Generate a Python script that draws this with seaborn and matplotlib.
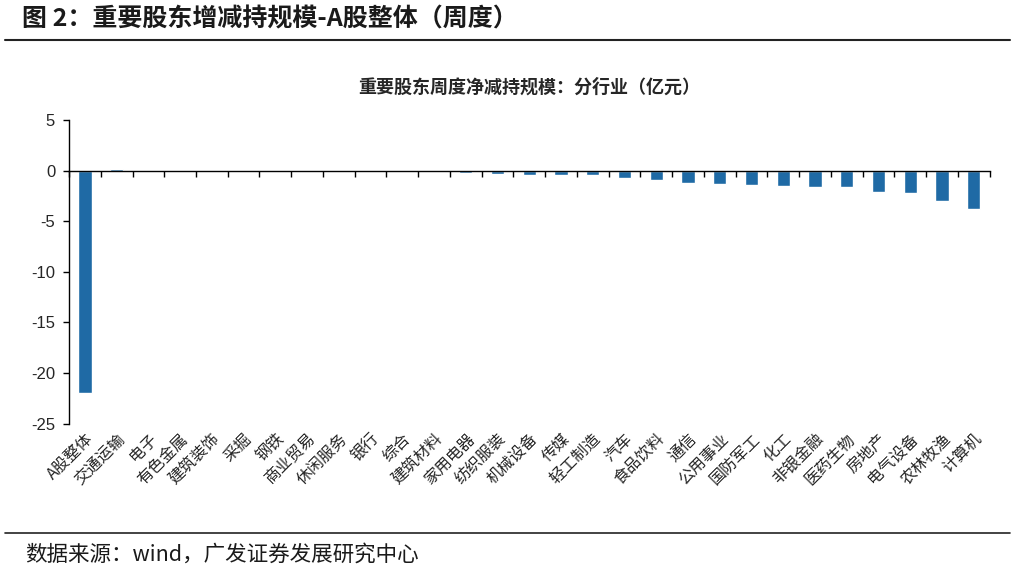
import matplotlib
matplotlib.use("Agg")
import matplotlib.pyplot as plt
import seaborn as sns
import pandas as pd
import numpy as np

industries = ["A股整体", "交通运输", "电子", "有色金属", "建筑装饰", "采掘", "钢铁", "商业贸易",
              "休闲服务", "银行", "综合", "建筑材料", "家用电器", "纺织服装", "机械设备", "传媒",
              "轻工制造", "汽车", "食品饮料", "通信", "公用事业", "国防军工", "化工", "非银金融",
              "医药生物", "房地产", "电气设备", "农林牧渔", "计算机"]
values = [-22.0, 0.2, 0.0, 0.0, 0.0, 0.0, 0.0, 0.0,
          0.0, 0.0, 0.0, 0.0, -0.2, -0.3, -0.4, -0.46,
          -0.46, -0.69, -0.86, -1.19, -1.32, -1.42, -1.48, -1.58,
          -1.65, -2.1, -2.17, -2.96, -3.82]
y_ticks = [5, 0, -5, -10, -15, -20, -25]

sns.set_theme(style="white")
plt.rcParams['font.family'] = ['Noto Sans CJK SC', 'DejaVu Sans']

df = pd.DataFrame({"行业": industries, "规模": values})

fig = plt.figure(figsize=(10.15, 5.7), dpi=100)
ax = fig.add_axes([0.068, 0.257, 0.907, 0.532])

sns.barplot(data=df, x="行业", y="规模", color="#1F6AA5", width=0.42,
            saturation=1, ax=ax, order=industries)

ax.set_ylim(-25, 5)
ax.set_yticks(y_ticks)
ax.set_yticklabels([str(v) for v in y_ticks], family=['Liberation Sans', 'DejaVu Sans'], fontsize=12)
ax.set_xlim(-0.5, len(industries) - 0.5)
ax.set_xlabel("")
ax.set_ylabel("")

for s in ["top", "right"]:
    ax.spines[s].set_visible(False)
ax.spines["left"].set_color("black")
ax.spines["left"].set_linewidth(1.0)
ax.spines["bottom"].set_position(("data", 0))
ax.spines["bottom"].set_color("black")
ax.spines["bottom"].set_linewidth(1.0)

ax.tick_params(axis="y", which="major", direction="out", length=4, width=1, color="black", left=True, pad=6)
ax.set_xticks(np.arange(len(industries)))
ax.tick_params(axis="x", which="major", length=0, labelbottom=False)
ax.set_xticks(np.arange(len(industries) + 1) - 0.5, minor=True)
ax.tick_params(axis="x", which="minor", direction="out", length=4, width=1, color="black", bottom=True)

sec = ax.secondary_xaxis(0)
sec.set_xticks(np.arange(len(industries)))
sec.set_xticklabels(industries, rotation=45, ha="right", rotation_mode="anchor", fontsize=11.5)
sec.tick_params(axis="x", length=0, pad=5)
sec.spines["bottom"].set_visible(False)

ax.set_title("重要股东周度净减持规模：分行业（亿元）", fontsize=13, fontweight="bold", pad=20)

fig.text(0.022, 0.966, "图 2：重要股东增减持规模-A股整体（周度）", fontsize=18,
         fontweight="bold", va="center", ha="left", color="#1a1a1a")
fig.add_artist(plt.Line2D([0.005, 0.995], [0.93, 0.93], color="#222222", linewidth=1.5,
                          transform=fig.transFigure))
fig.add_artist(plt.Line2D([0.005, 0.995], [0.065, 0.065], color="#222222", linewidth=1.2,
                          transform=fig.transFigure))
fig.text(0.025, 0.027, "数据来源：wind，广发证券发展研究中心", fontsize=15.5,
         va="center", ha="left", color="#1a1a1a")

fig.savefig("out.png", dpi=100)
